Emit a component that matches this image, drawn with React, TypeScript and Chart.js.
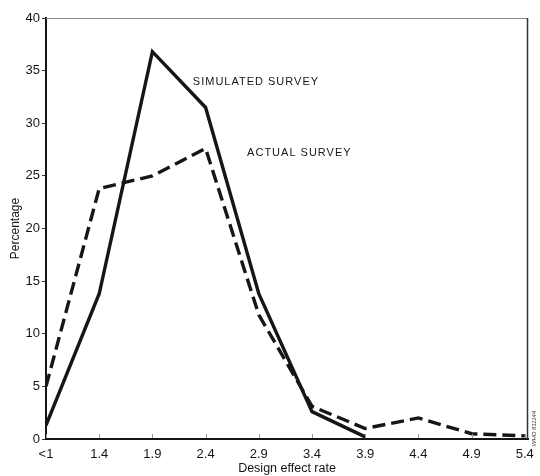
import React, { useEffect, useRef } from "react";
import { Chart, registerables } from "chart.js";

Chart.register(...registerables);

// ---- data ----
const X_LABELS = ["<1", "1.4", "1.9", "2.4", "2.9", "3.4", "3.9", "4.4", "4.9", "5.4"];
const SIMULATED = [1.3, 13.8, 36.8, 31.5, 13.8, 2.6, 0.2];
const ACTUAL = [5.0, 23.8, 25.0, 27.6, 11.8, 3.1, 1.0, 2.0, 0.5, 0.3];
const Y_MIN = 0;
const Y_MAX = 40;
const Y_STEP = 5;
const SIM_LABEL = "SIMULATED SURVEY";
const ACT_LABEL = "ACTUAL SURVEY";
const X_TITLE = "Design effect rate";
const Y_TITLE = "Percentage";
const CODE_LABEL = "WHO 811144";

const FONT = "'Liberation Sans', Arial, Helvetica, sans-serif";
const INK = "#161616";

const framePlugin = {
  id: "framePlugin",
  afterDraw(chart: any) {
    const { ctx, chartArea, scales } = chart;
    const { left, top, right, bottom } = chartArea;
    const x = scales.x;
    const y = scales.y;
    ctx.save();
    // top frame line (faint)
    ctx.strokeStyle = "#8a8a8a";
    ctx.lineWidth = 1;
    ctx.beginPath();
    ctx.moveTo(left, top + 0.5);
    ctx.lineTo(right, top + 0.5);
    ctx.stroke();
    // right frame line
    ctx.strokeStyle = "#333";
    ctx.lineWidth = 1.5;
    ctx.beginPath();
    ctx.moveTo(right - 0.5, top);
    ctx.lineTo(right - 0.5, bottom);
    ctx.stroke();
    // inner x tick marks
    ctx.strokeStyle = "#999";
    ctx.lineWidth = 1;
    X_LABELS.forEach((_, i) => {
      const px = Math.round(x.getPixelForValue(i)) + 0.5;
      ctx.beginPath();
      ctx.moveTo(px, bottom - 1);
      ctx.lineTo(px, bottom - 5);
      ctx.stroke();
    });
    // series labels
    ctx.fillStyle = INK;
    ctx.font = `11px ${FONT}`;
    (ctx as any).letterSpacing = "1px";
    ctx.textAlign = "left";
    ctx.textBaseline = "middle";
    ctx.fillText(SIM_LABEL, x.getPixelForValue(2.76), y.getPixelForValue(33.9));
    ctx.fillText(ACT_LABEL, x.getPixelForValue(3.78), y.getPixelForValue(27.2));
    (ctx as any).letterSpacing = "0px";
    // vertical code label at right edge
    ctx.font = `italic 6px ${FONT}`;
    ctx.fillStyle = "#333";
    ctx.translate(right + 6, y.getPixelForValue(1.0));
    ctx.rotate(-Math.PI / 2);
    ctx.textAlign = "center";
    ctx.fillText(CODE_LABEL, 0, 0);
    ctx.restore();
  },
};

export default function App() {
  const ref = useRef<HTMLCanvasElement | null>(null);

  useEffect(() => {
    document.body.style.margin = "0";
    const canvas = ref.current;
    if (!canvas) return;
    const chart = new Chart(canvas, {
      type: "line",
      data: {
        datasets: [
          {
            label: SIM_LABEL,
            data: SIMULATED.map((v, i) => ({ x: i, y: v })),
            borderColor: INK,
            borderWidth: 3.4,
            pointRadius: 0,
            tension: 0,
            fill: false,
          },
          {
            label: ACT_LABEL,
            data: ACTUAL.map((v, i) => ({ x: i, y: v })),
            borderColor: INK,
            borderWidth: 3.4,
            borderDash: [13, 6],
            pointRadius: 0,
            tension: 0,
            fill: false,
          },
        ],
      },
      options: {
        responsive: false,
        animation: false,
        devicePixelRatio: 1,
        layout: { padding: { top: 18, right: 12, left: 0, bottom: 0 } },
        plugins: {
          legend: { display: false },
          tooltip: { enabled: false },
        },
        scales: {
          x: {
            type: "linear",
            min: 0,
            max: 9.06,
            afterBuildTicks: (scale: any) => {
              scale.ticks = X_LABELS.map((_, i) => ({ value: i }));
            },
            afterFit: (scale: any) => {
              scale.height = 37;
            },
            ticks: {
              autoSkip: false,
              maxRotation: 0,
              padding: 0,
              color: INK,
              font: { family: FONT, size: 13 },
              callback: (v: any) => X_LABELS[v] ?? "",
            },
            grid: { display: false },
            border: { display: true, color: INK, width: 2 },
            title: {
              display: true,
              text: X_TITLE,
              color: INK,
              font: { family: FONT, size: 12.5 },
              padding: { top: 0, bottom: 0 },
            },
          },
          y: {
            min: Y_MIN,
            max: Y_MAX,
            afterFit: (scale: any) => {
              scale.width = 46;
            },
            ticks: {
              stepSize: Y_STEP,
              padding: 2,
              color: INK,
              font: { family: FONT, size: 13 },
            },
            grid: {
              display: true,
              drawOnChartArea: false,
              drawTicks: true,
              tickLength: 4,
              color: "#333",
              lineWidth: 1,
            },
            border: { display: true, color: INK, width: 2 },
            title: {
              display: true,
              text: Y_TITLE,
              color: INK,
              font: { family: FONT, size: 12 },
              padding: { top: 8, bottom: 0 },
            },
          },
        },
      },
      plugins: [framePlugin],
    });
    return () => chart.destroy();
  }, []);

  return (
    <div style={{ position: "absolute", left: 0, top: 0, width: 540, height: 476, background: "#fff" }}>
      <canvas ref={ref} width={540} height={476} style={{ display: "block", width: 540, height: 476 }} />
    </div>
  );
}
